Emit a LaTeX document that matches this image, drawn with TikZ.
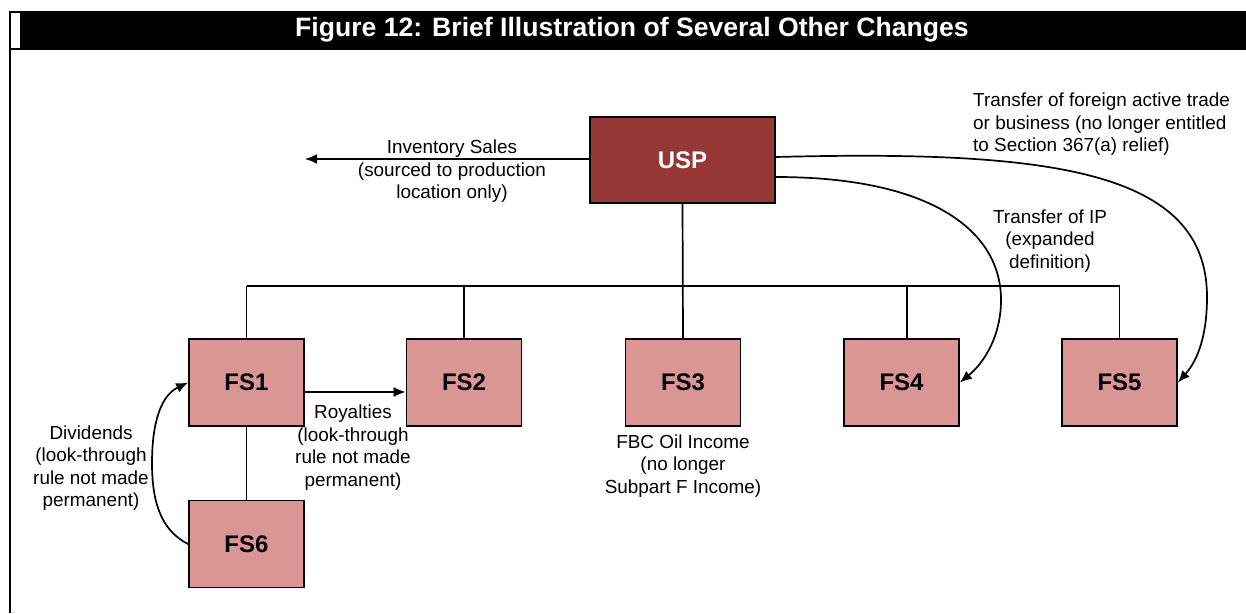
\documentclass[tikz,border=0pt]{standalone}
\usepackage{fontspec}
\setmainfont{Liberation Sans}
\usetikzlibrary{arrows.meta}
\definecolor{uspred}{HTML}{953735}
\definecolor{fspink}{HTML}{D99694}
\begin{document}
\begin{tikzpicture}[x=1pt,y=-1pt,
  conn/.style={line width=1.7pt,black},
  arr/.style={conn,-{Latex[length=12pt,width=10pt]}},
  fsbox/.style={draw=black,line width=1.7pt,fill=fspink,minimum width=115pt,minimum height=87pt,inner sep=0pt,font=\fontsize{24}{28}\selectfont\bfseries},
  uspbox/.style={draw=black,line width=1.7pt,fill=uspred,text=white,minimum width=185pt,minimum height=86pt,inner sep=0pt,font=\fontsize{24}{28}\selectfont\bfseries},
  lbl/.style={inner sep=0pt,align=center,font=\fontsize{18.9}{22.5}\selectfont},
]
\useasboundingbox[fill=white] (0,0) rectangle (1246,613);
% title bar
\fill[black] (9,11) rectangle (1246,50);
\fill[white] (11,13) rectangle (20,48);
\draw[line width=2pt] (10,50) -- (10,613);
\node[text=white,inner sep=0pt,font=\fontsize{26.6}{30}\selectfont\bfseries] (title) at (632,30) {Figure 12: Brief Illustration of Several Other Changes};

% boxes
\node[uspbox] (USP) at (682.5,160) {USP};
\node[fsbox] (FS1) at (246.5,382.5) {FS1};
\node[fsbox] (FS2) at (464,382.5) {FS2};
\node[fsbox] (FS3) at (683,382.5) {FS3};
\node[fsbox] (FS4) at (901.5,382.5) {FS4};
\node[fsbox] (FS5) at (1119.5,382.5) {FS5};
\node[fsbox] (FS6) at (246.5,544) {FS6};

% bus
\coordinate (busL) at (246.5,286);
\coordinate (busR) at (1119.5,286);
\coordinate (bus2) at (464,286);
\coordinate (bus4) at (907,286);
\draw[conn] (USP.south) -- (FS3.north);
\draw[conn] (busL) -- (busR);
\draw[conn] (busL) -- (FS1.north);
\draw[conn] (bus2) -- (FS2.north);
\draw[conn] (bus4) -- ([xshift=5.5pt]FS4.north);
\draw[conn] (busR) -- (FS5.north);
\draw[conn] (FS1.south) -- (FS6.north);

% arrows
\coordinate (invend) at (305,159);
\draw[arr] ([yshift=1pt]USP.west) -- (invend);
\draw[arr] ([yshift=-9.5pt]FS1.east) -- ([yshift=-9.5pt]FS2.west);
\draw[arr] (FS6.west) .. controls (160,530) and (152,500) .. (152,463)
  .. controls (152,420) and (162,395) .. (FS1.west);
\draw[arr] ([yshift=-17pt]USP.east) .. controls (930,177) and (1001,230) .. (1001,300)
  .. controls (1001,335) and (985,362) .. (FS4.east);
\draw[arr] ([yshift=3pt]USP.east) .. controls (1050,150) and (1207,170) .. (1207,297)
  .. controls (1207,335) and (1198,360) .. (FS5.east);

% labels
\node[lbl] (linv) at (452,171.5) {Inventory Sales\\(sourced to production\\location only)};
\node[lbl,align=left,anchor=west] (ltft) at (973,124.5) {Transfer of foreign active trade\\or business (no longer entitled\\to Section 367(a) relief)};
\node[lbl] (lip) at (1050,241) {Transfer of IP\\(expanded\\definition)};
\node[lbl] (lroy) at (353,447.5) {Royalties\\(look-through\\rule not made\\permanent)};
\node[lbl] (ldiv) at (91,468) {Dividends\\(look-through\\rule not made\\permanent)};
\node[lbl] (lfbc) at (683,466) {FBC Oil Income\\(no longer\\Subpart F Income)};
\end{tikzpicture}
\end{document}
